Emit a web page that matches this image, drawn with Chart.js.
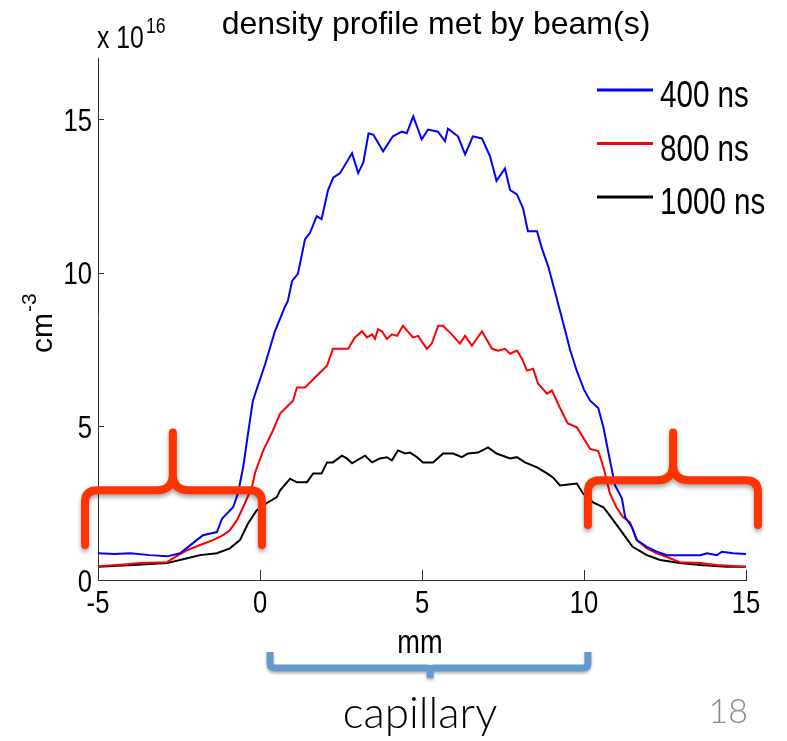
<!DOCTYPE html>
<html>
<head>
<meta charset="utf-8">
<title>density profile met by beam(s)</title>
<script src="https://cdn.jsdelivr.net/npm/chart.js@4.4.1/dist/chart.umd.min.js"></script>
<style>
  html, body { margin: 0; padding: 0; background: #fff; }
  canvas { display: block; }
</style>
</head>
<body>
<canvas id="profileChart" width="787" height="741"></canvas>
<script>
// Position along the beam (mm) and density (x 10^16 cm^-3) for each delay
const mm400 = [-5, -4.5, -4, -3.4, -2.87, -2.47, -2.07, -1.76, -1.33, -1.17, -0.83, -0.68, -0.52, -0.37, -0.22,
  0.15, 0.46, 0.77, 0.86, 0.99, 1.17, 1.39, 1.54, 1.75, 1.9, 2.1, 2.26, 2.47, 2.84, 3.03, 3.19, 3.35, 3.5, 3.8,
  4.1, 4.38, 4.53, 4.73, 4.99, 5.19, 5.49, 5.71, 5.8, 6.11, 6.33, 6.57, 6.85, 7.1, 7.3, 7.56, 7.72, 7.93, 8.12,
  8.27, 8.55, 8.7, 8.9, 9.1, 9.35, 9.57, 9.78, 10.0, 10.19, 10.44, 10.6, 10.8, 10.96, 11.17, 11.27, 11.48, 11.63,
  11.94, 12.25, 12.56, 13.0, 13.58, 13.8, 14.1, 14.26, 14.6, 15];
const dens400 = [0.87, 0.85, 0.87, 0.81, 0.77, 0.87, 1.2, 1.46, 1.56, 2.0, 2.37, 2.82, 3.67, 4.77, 5.84,
  7.0, 8.1, 8.9, 9.09, 9.74, 9.97, 11.1, 11.3, 11.85, 11.75, 12.7, 13.1, 13.25, 13.9, 13.25, 13.6, 14.55, 14.5, 13.96,
  14.45, 14.6, 14.55, 15.1, 14.35, 14.67, 14.6, 14.29, 14.7, 14.45, 13.86, 14.45, 14.38, 13.8, 13.0, 13.4, 12.7, 12.56, 12.1,
  11.36, 11.36, 10.8, 10.2, 9.4, 8.4, 7.5, 6.8, 6.2, 5.84, 5.6, 4.97, 3.9, 3.08, 2.66, 2.05, 1.72, 1.3,
  1.08, 0.92, 0.81, 0.81, 0.81, 0.87, 0.81, 0.92, 0.87, 0.85];

const mm800 = [-5, -4.3, -3.7, -2.87, -2.68, -2.25, -1.85, -1.45, -1.14, -0.93, -0.71, -0.52, -0.25, -0.15, 0.1,
  0.4, 0.62, 1.02, 1.14, 1.39, 1.76, 2.07, 2.25, 2.72, 2.93, 3.15, 3.3, 3.46, 3.55, 3.64, 3.76, 3.92, 4.07, 4.23,
  4.41, 4.72, 4.88, 5.15, 5.3, 5.5, 5.65, 5.92, 6.17, 6.33, 6.54, 6.85, 7.16, 7.35, 7.56, 7.72, 7.93, 8.09, 8.24,
  8.43, 8.58, 8.86, 9.01, 9.26, 9.5, 9.78, 10.19, 10.44, 10.6, 10.8, 11.0, 11.2, 11.42, 11.63, 11.94, 12.25, 12.56,
  12.96, 13.58, 14.1, 15];
const dens800 = [0.45, 0.5, 0.55, 0.58, 0.71, 0.97, 1.14, 1.3, 1.46, 1.62, 1.95, 2.37, 3.02, 3.5, 4.22,
  4.87, 5.42, 5.84, 6.27, 6.27, 6.66, 6.98, 7.53, 7.53, 7.9, 8.1, 7.9, 8.0, 7.85, 8.17, 8.1, 7.85, 8.0, 7.95,
  8.28, 7.9, 7.95, 7.53, 7.7, 8.28, 8.28, 8.0, 7.7, 7.95, 7.63, 8.1, 7.53, 7.47, 7.53, 7.37, 7.47, 7.2, 6.82,
  6.88, 6.4, 6.07, 6.17, 5.6, 5.1, 4.97, 4.27, 4.2, 3.67, 2.82, 2.37, 2.05, 1.88, 1.3, 1.03, 0.87, 0.75,
  0.58, 0.55, 0.49, 0.43];

const mm1000 = [-5, -3.9, -2.87, -2.25, -1.85, -1.33, -0.93, -0.62, -0.37, -0.1, 0.2, 0.52, 0.62, 0.93, 1.14,
  1.45, 1.64, 1.9, 2.07, 2.25, 2.53, 2.68, 2.84, 3.24, 3.46, 3.7, 3.92, 4.07, 4.26, 4.48, 4.63, 4.85, 5.03, 5.34,
  5.65, 5.96, 6.23, 6.42, 6.73, 7.04, 7.3, 7.72, 7.93, 8.18, 8.55, 8.86, 9.04, 9.26, 9.78, 9.97, 10.28, 10.6, 10.9,
  11.2, 11.5, 11.94, 12.35, 12.96, 13.58, 14.4, 15];
const dens1000 = [0.43, 0.49, 0.55, 0.71, 0.81, 0.87, 1.03, 1.3, 1.84, 2.27, 2.5, 2.7, 2.92, 3.3, 3.18,
  3.18, 3.47, 3.47, 3.83, 3.83, 4.05, 3.96, 3.8, 4.05, 3.83, 3.96, 4.0, 3.9, 4.22, 4.12, 4.15, 4.0, 3.83, 3.83,
  4.12, 4.12, 4.0, 4.12, 4.15, 4.32, 4.12, 3.96, 4.0, 3.83, 3.67, 3.47, 3.34, 3.08, 3.14, 2.82, 2.53, 2.37, 1.95,
  1.52, 1.08, 0.81, 0.65, 0.55, 0.49, 0.43, 0.43];

const seriesLabels = ['400 ns', '800 ns', '1000 ns'];
const seriesColors = ['#0000ff', '#ff0000', '#000000'];
const xTickValues = [-5, 0, 5, 10, 15];
const yTickValues = [0, 5, 10, 15];

const SANS = "'Liberation Sans', Arial, sans-serif";
const LIGHT = "Lato, 'Open Sans', sans-serif";
const SQUEEZE = 0.8; // the figure text is horizontally condensed

function toPoints(xs, ys) {
  return xs.map((x, i) => ({ x: x, y: ys[i] }));
}

// condensed Helvetica-like text
function narrowText(ctx, text, x, y, size, align) {
  ctx.save();
  ctx.font = size + 'px ' + SANS;
  ctx.textAlign = align;
  ctx.textBaseline = 'alphabetic';
  ctx.translate(x, y);
  ctx.scale(SQUEEZE, 1);
  ctx.fillText(text, 0, 0);
  ctx.restore();
}

// curly brace: legs at x1/x2 ending at yEnd, bar at yBar, centre spike to yTip
function drawBrace(ctx, x1, x2, xm, yBar, yEnd, yTip, r, rm) {
  const s = Math.sign(yEnd - yBar);
  const t = Math.sign(yTip - yBar);
  ctx.beginPath();
  ctx.moveTo(x1, yEnd);
  ctx.lineTo(x1, yBar + s * r);
  ctx.quadraticCurveTo(x1, yBar, x1 + r, yBar);
  ctx.lineTo(xm - rm, yBar);
  ctx.quadraticCurveTo(xm, yBar, xm, yBar + t * rm);
  ctx.lineTo(xm, yTip);
  ctx.moveTo(xm, yBar + t * rm);
  ctx.quadraticCurveTo(xm, yBar, xm + rm, yBar);
  ctx.lineTo(x2 - r, yBar);
  ctx.quadraticCurveTo(x2, yBar, x2, yBar + s * r);
  ctx.lineTo(x2, yEnd);
  ctx.stroke();
}

// ticks pointing into the plot plus their labels, MATLAB style
const axisDecor = {
  id: 'axisDecor',
  afterDraw(chart) {
    const { ctx, chartArea, scales } = chart;
    ctx.save();
    ctx.strokeStyle = '#333';
    ctx.lineWidth = 1;
    ctx.beginPath();
    scales.x.ticks.forEach(t => {
      const px = Math.round(scales.x.getPixelForValue(t.value)) + 0.5;
      ctx.moveTo(px, chartArea.bottom);
      ctx.lineTo(px, chartArea.bottom - 10);
    });
    scales.y.ticks.forEach(t => {
      const py = Math.round(scales.y.getPixelForValue(t.value)) + 0.5;
      ctx.moveTo(chartArea.left, py);
      ctx.lineTo(chartArea.left + 6, py);
    });
    ctx.stroke();

    ctx.fillStyle = '#000';
    scales.x.ticks.forEach(t => {
      narrowText(ctx, t.label, scales.x.getPixelForValue(t.value), chartArea.bottom + 33, 32, 'center');
    });
    scales.y.ticks.forEach(t => {
      narrowText(ctx, t.label, chartArea.left - 6, scales.y.getPixelForValue(t.value) + 11.5, 32, 'right');
    });
    narrowText(ctx, 'mm', (chartArea.left + chartArea.right) / 2 - 2, chartArea.bottom + 73, 34, 'center');

    // exponent above the y axis
    narrowText(ctx, 'x 10', chartArea.left - 1, chartArea.top - 10, 31, 'left');
    ctx.font = '31px ' + SANS;
    const w10 = ctx.measureText('x 10').width * SQUEEZE;
    narrowText(ctx, '16', chartArea.left + w10 + 1, chartArea.top - 25, 22, 'left');
    ctx.restore();
  }
};

// legend inside the top right corner of the plot
const insideLegend = {
  id: 'insideLegend',
  afterDraw(chart) {
    const { ctx, chartArea } = chart;
    ctx.save();
    chart.data.datasets.forEach((ds, i) => {
      const y = chartArea.top + 32 + i * 53.5;
      ctx.strokeStyle = ds.borderColor;
      ctx.lineWidth = 3;
      ctx.beginPath();
      ctx.moveTo(chartArea.right - 149, y);
      ctx.lineTo(chartArea.right - 93, y);
      ctx.stroke();
      ctx.fillStyle = '#000';
      narrowText(ctx, ds.label, chartArea.right - 86, y + 17, 37, 'left');
    });
    ctx.restore();
  }
};

// title, unit and the slide annotations
const annotations = {
  id: 'annotations',
  afterDraw(chart) {
    const { ctx, chartArea, scales } = chart;
    const xs = scales.x, ys = scales.y;
    ctx.save();

    ctx.fillStyle = '#000';
    ctx.textBaseline = 'alphabetic';
    ctx.textAlign = 'center';
    ctx.font = '32px ' + SANS;
    ctx.fillText('density profile met by beam(s)', 436, 34);

    // rotated unit label with superscript
    ctx.save();
    ctx.translate(52, 333);
    ctx.rotate(-Math.PI / 2);
    ctx.font = '30px ' + SANS;
    const wcm = ctx.measureText('cm').width;
    ctx.textAlign = 'center';
    ctx.fillText('cm', 0, 0);
    ctx.textAlign = 'left';
    ctx.font = '21px ' + SANS;
    ctx.fillText('-3', wcm / 2 + 1, -16);
    ctx.restore();

    // red braces over the regions outside the capillary
    ctx.save();
    ctx.strokeStyle = '#ff3300';
    ctx.lineWidth = 8;
    ctx.lineCap = 'round';
    ctx.lineJoin = 'round';
    ctx.shadowColor = 'rgba(0,0,0,0.35)';
    ctx.shadowBlur = 4;
    ctx.shadowOffsetY = 3;
    drawBrace(ctx, xs.getPixelForValue(-5.4), xs.getPixelForValue(0.06), xs.getPixelForValue(-2.69),
      ys.getPixelForValue(2.92), ys.getPixelForValue(1.14), ys.getPixelForValue(4.8), 12, 16);
    drawBrace(ctx, xs.getPixelForValue(10.12), xs.getPixelForValue(15.37), xs.getPixelForValue(12.75),
      ys.getPixelForValue(3.25), ys.getPixelForValue(1.79), ys.getPixelForValue(4.8), 12, 16);
    ctx.restore();

    // blue brace marking the capillary
    ctx.save();
    ctx.strokeStyle = '#6699cc';
    ctx.lineWidth = 7;
    ctx.lineCap = 'butt';
    ctx.lineJoin = 'round';
    ctx.shadowColor = 'rgba(0,0,0,0.3)';
    ctx.shadowBlur = 3;
    ctx.shadowOffsetY = 2;
    drawBrace(ctx, xs.getPixelForValue(0.31), xs.getPixelForValue(10.12), xs.getPixelForValue(5.25),
      chartArea.bottom + 88, chartArea.bottom + 72, chartArea.bottom + 98, 5, 3);
    ctx.restore();

    ctx.textAlign = 'center';
    ctx.fillStyle = '#000';
    ctx.font = '300 44px ' + LIGHT;
    ctx.fillText('capillary', 420, 728);

    ctx.textAlign = 'right';
    ctx.fillStyle = '#8a8a8a';
    ctx.font = '300 34px ' + LIGHT;
    ctx.fillText('18', 748, 723);

    ctx.restore();
  }
};

const ctx = document.getElementById('profileChart').getContext('2d');

const data = {
  datasets: [
    { label: seriesLabels[0], data: toPoints(mm400, dens400), borderColor: seriesColors[0] },
    { label: seriesLabels[1], data: toPoints(mm800, dens800), borderColor: seriesColors[1] },
    { label: seriesLabels[2], data: toPoints(mm1000, dens1000), borderColor: seriesColors[2] }
  ].map(ds => Object.assign(ds, { borderWidth: 2, pointRadius: 0, tension: 0, fill: false }))
};

const options = {
  responsive: false,
  animation: false,
  layout: { padding: { left: 0, right: 41, top: 58, bottom: 71 } },
  plugins: {
    legend: { display: false },
    tooltip: { enabled: false },
    title: { display: false }
  },
  scales: {
    x: {
      type: 'linear',
      min: -5,
      max: 15,
      afterBuildTicks: s => { s.ticks = xTickValues.map(v => ({ value: v })); },
      afterFit: s => { s.height = 90; },
      ticks: { display: false },
      grid: { color: 'rgba(0,0,0,0)', drawTicks: false },
      border: { color: '#333', width: 1 }
    },
    y: {
      min: 0,
      max: 17,
      afterBuildTicks: s => { s.ticks = yTickValues.map(v => ({ value: v })); },
      afterFit: s => { s.width = 98; },
      ticks: { display: false },
      grid: { color: 'rgba(0,0,0,0)', drawTicks: false },
      border: { color: '#333', width: 1 }
    }
  }
};

new Chart(ctx, {
  type: 'line',
  data: data,
  options: options,
  plugins: [axisDecor, insideLegend, annotations]
});
</script>
</body>
</html>
